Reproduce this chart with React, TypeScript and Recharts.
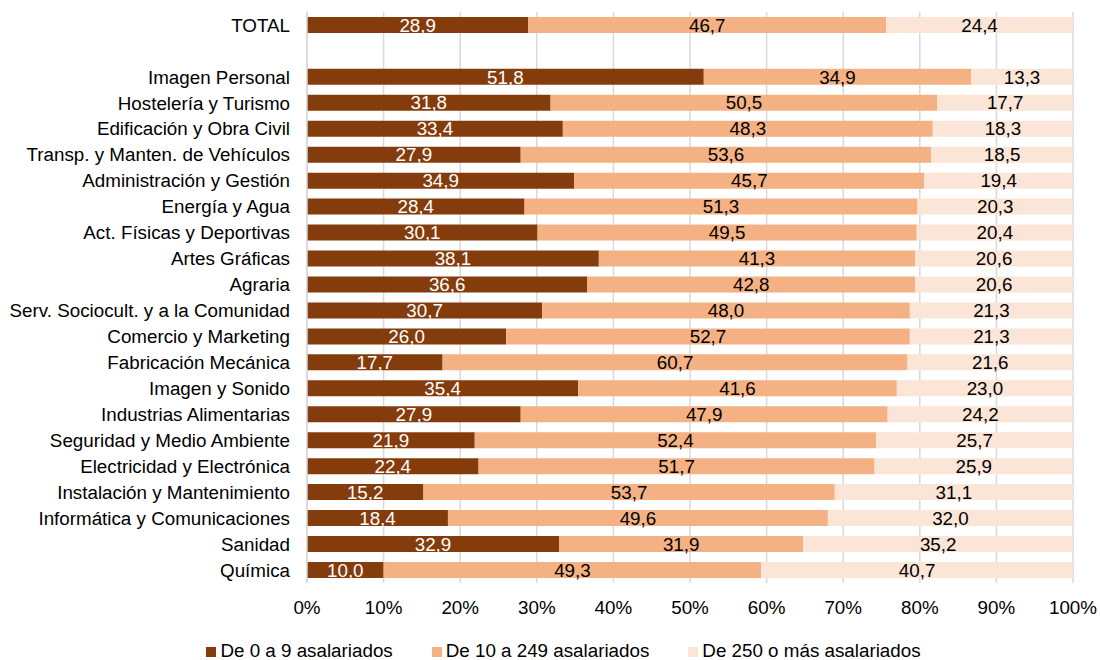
import { BarChart, Bar, XAxis, YAxis, CartesianGrid, Legend, LabelList } from "recharts";

const categories = [
  "TOTAL",
  "",
  "Imagen Personal",
  "Hostelería y Turismo",
  "Edificación y Obra Civil",
  "Transp. y Manten. de Vehículos",
  "Administración y Gestión",
  "Energía y Agua",
  "Act. Físicas y Deportivas",
  "Artes Gráficas",
  "Agraria",
  "Serv. Sociocult. y a la Comunidad",
  "Comercio y Marketing",
  "Fabricación Mecánica",
  "Imagen y Sonido",
  "Industrias Alimentarias",
  "Seguridad y Medio Ambiente",
  "Electricidad y Electrónica",
  "Instalación y Mantenimiento",
  "Informática y Comunicaciones",
  "Sanidad",
  "Química",
];

const small = [28.9, null, 51.8, 31.8, 33.4, 27.9, 34.9, 28.4, 30.1, 38.1, 36.6, 30.7, 26.0, 17.7, 35.4, 27.9, 21.9, 22.4, 15.2, 18.4, 32.9, 10.0];
const medium = [46.7, null, 34.9, 50.5, 48.3, 53.6, 45.7, 51.3, 49.5, 41.3, 42.8, 48.0, 52.7, 60.7, 41.6, 47.9, 52.4, 51.7, 53.7, 49.6, 31.9, 49.3];
const large = [24.4, null, 13.3, 17.7, 18.3, 18.5, 19.4, 20.3, 20.4, 20.6, 20.6, 21.3, 21.3, 21.6, 23.0, 24.2, 25.7, 25.9, 31.1, 32.0, 35.2, 40.7];

const xTicks = [0, 10, 20, 30, 40, 50, 60, 70, 80, 90, 100];

const data = categories.map((name, i) => ({
  name,
  small: small[i],
  medium: medium[i],
  large: large[i],
}));

const fmt = (v: any) => (v === null || v === undefined ? "" : Number(v).toFixed(1).replace(".", ","));

const font = "'Liberation Sans', Arial, sans-serif";
const fs = 18.8;

export default function App() {
  return (
    <div style={{ position: "absolute", left: 0, top: 0, fontFamily: font }}>
      <BarChart
        width={1100}
        height={660}
        data={data}
        layout="vertical"
        barCategoryGap="19%"
        margin={{ top: 12, right: 27, bottom: 0, left: 0 }}
      >
        <CartesianGrid horizontal={false} stroke="#D9D9D9" strokeWidth={1.5} />
        <XAxis
          type="number"
          domain={[0, 100]}
          ticks={xTicks}
          tickFormatter={(v) => `${v}%`}
          axisLine={false}
          tickLine={false}
          height={59}
          tickMargin={12}
          tick={{ fontSize: fs, fill: "#000", fontFamily: font }}
          interval={0}
        />
        <YAxis
          type="category"
          dataKey="name"
          width={307}
          axisLine={{ stroke: "#D9D9D9", strokeWidth: 1.5 }}
          tickLine={false}
          tickSize={8}
          tickMargin={9}
          interval={0}
          tick={{ fontSize: fs, fill: "#000", fontFamily: font }}
        />
        <Legend
          verticalAlign="bottom"
          height={18}
          iconType="square"
          iconSize={10}
          wrapperStyle={{ fontSize: fs, fontFamily: font, left: 203, width: 760, top: 640 }}
          formatter={(value) => <span style={{ color: "#000", marginRight: 29 }}>{value}</span>}
        />
        <Bar dataKey="small" name="De 0 a 9 asalariados" stackId="a" fill="#843C0C" isAnimationActive={false}>
          <LabelList dataKey="small" position="center" formatter={fmt} fill="#fff" fontSize={fs} fontFamily={font} />
        </Bar>
        <Bar dataKey="medium" name="De 10 a 249 asalariados" stackId="a" fill="#F4B183" isAnimationActive={false}>
          <LabelList dataKey="medium" position="center" formatter={fmt} fill="#000" fontSize={fs} fontFamily={font} />
        </Bar>
        <Bar dataKey="large" name="De 250 o más asalariados" stackId="a" fill="#FBE5D6" isAnimationActive={false}>
          <LabelList dataKey="large" position="center" formatter={fmt} fill="#000" fontSize={fs} fontFamily={font} />
        </Bar>
      </BarChart>
    </div>
  );
}
